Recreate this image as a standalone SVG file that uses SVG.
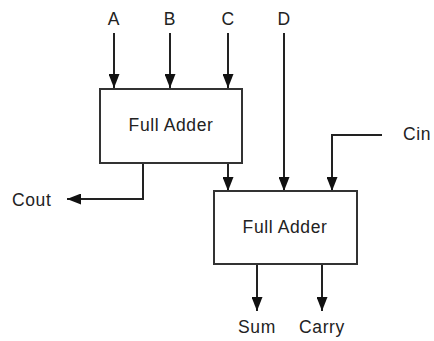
<svg xmlns="http://www.w3.org/2000/svg" width="434" height="341" viewBox="0 0 434 341">
  <style>
    .box { fill: #ffffff; stroke: #333333; stroke-width: 2; }
    .wire { fill: none; stroke: #222222; stroke-width: 2; }
    .lbl { font-family: "Liberation Sans", Arial, sans-serif; font-size: 17.5px; fill: #222222; letter-spacing: 0.6px; }
  </style>
  <defs>
    <marker id="arr" markerUnits="userSpaceOnUse" markerWidth="14" markerHeight="11" refX="14" refY="5.5" orient="auto">
      <path d="M0,0 L14,5.5 L0,11 z" fill="#111111"/>
    </marker>
  </defs>
  <rect width="434" height="341" fill="#ffffff"/>
  <g id="connectors">
    <line class="wire" x1="114" y1="33" x2="114" y2="88" marker-end="url(#arr)"/>
    <line class="wire" x1="170" y1="33" x2="170" y2="88" marker-end="url(#arr)"/>
    <line class="wire" x1="228" y1="33" x2="228" y2="88" marker-end="url(#arr)"/>
    <line class="wire" x1="284" y1="33" x2="284" y2="191" marker-end="url(#arr)"/>
    <polyline class="wire" points="382,135 332,135 332,191" marker-end="url(#arr)"/>
    <line class="wire" x1="228" y1="163" x2="228" y2="191" marker-end="url(#arr)"/>
    <polyline class="wire" points="143,163 143,199 67,199" marker-end="url(#arr)"/>
    <line class="wire" x1="257" y1="264" x2="257" y2="311" marker-end="url(#arr)"/>
    <line class="wire" x1="322" y1="264" x2="322" y2="311" marker-end="url(#arr)"/>
  </g>
  <g id="fa1">
    <rect class="box" x="100" y="89" width="142" height="74"/>
    <text class="lbl" x="171" y="131" text-anchor="middle">Full Adder</text>
  </g>
  <g id="fa2">
    <rect class="box" x="214" y="191" width="143" height="73"/>
    <text class="lbl" x="285" y="233" text-anchor="middle">Full Adder</text>
  </g>
  <g id="labels">
    <text class="lbl" x="114" y="25" text-anchor="middle">A</text>
    <text class="lbl" x="170" y="25" text-anchor="middle">B</text>
    <text class="lbl" x="228" y="25" text-anchor="middle">C</text>
    <text class="lbl" x="284" y="25" text-anchor="middle">D</text>
    <text class="lbl" x="403" y="140">Cin</text>
    <text class="lbl" x="12" y="206">Cout</text>
    <text class="lbl" x="257" y="333" text-anchor="middle">Sum</text>
    <text class="lbl" x="322" y="333" text-anchor="middle">Carry</text>
  </g>
</svg>
